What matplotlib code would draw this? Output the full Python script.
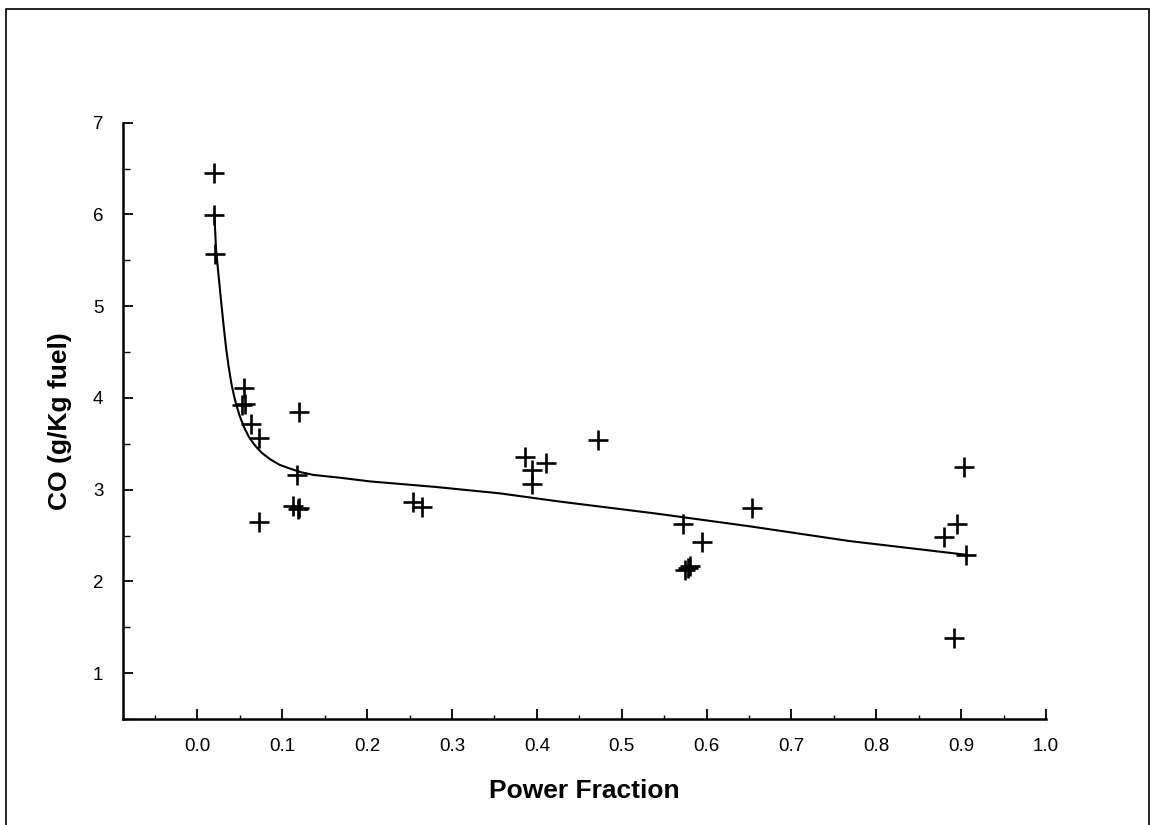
import numpy as np
import matplotlib.pyplot as plt
from matplotlib.ticker import MultipleLocator
from matplotlib.patches import Rectangle

plt.rcParams['font.family'] = ['Liberation Sans', 'DejaVu Sans']

# measured points (power fraction, CO g/kg fuel)
frac = [0.019, 0.020, 0.021, 0.055, 0.052, 0.056, 0.063, 0.073, 0.120, 0.117,
        0.113, 0.118, 0.120, 0.073, 0.254, 0.265, 0.386, 0.394, 0.394, 0.411,
        0.472, 0.572, 0.595, 0.574, 0.578, 0.580, 0.654, 0.903, 0.895, 0.880,
        0.906, 0.891]
co = [6.45, 5.99, 5.57, 4.11, 3.92, 3.93, 3.72, 3.56, 3.85, 3.16,
      2.82, 2.79, 2.80, 2.65, 2.87, 2.81, 3.36, 3.21, 3.06, 3.29,
      3.54, 2.63, 2.43, 2.12, 2.15, 2.17, 2.80, 3.25, 2.63, 2.48,
      2.29, 1.38]

# fitted curve
fit_x = [0.020, 0.022, 0.025, 0.028, 0.031, 0.034, 0.037, 0.040, 0.043,
         0.046, 0.050, 0.055, 0.061, 0.068, 0.076, 0.086, 0.097, 0.109,
         0.122, 0.137, 0.168, 0.203, 0.280, 0.356, 0.427, 0.540, 0.651,
         0.768, 0.906]
fit_y = [6.00, 5.62, 5.33, 5.05, 4.78, 4.53, 4.33, 4.16, 4.03,
         3.92, 3.80, 3.68, 3.57, 3.48, 3.40, 3.33, 3.27, 3.23,
         3.19, 3.16, 3.13, 3.09, 3.03, 2.96, 2.87, 2.74, 2.60,
         2.44, 2.29]

fig = plt.figure(figsize=(11.51, 8.25), dpi=100)
fig.patch.set_facecolor('white')
ax = fig.add_axes([0.1066, 0.1285, 0.8022, 0.7228])

ax.plot(fit_x, fit_y, color='black', lw=1.5)
ax.plot(frac, co, linestyle='none', marker='+', color='black',
        markersize=15, markeredgewidth=1.9)

ax.set_xlim(-0.088, 1.0)
ax.set_ylim(0.5, 7.0)
ax.xaxis.set_minor_locator(MultipleLocator(0.05))
ax.yaxis.set_minor_locator(MultipleLocator(0.5))
ax.set_xticks(np.arange(0, 1.01, 0.1))
ax.set_xticklabels(['%.1f' % v for v in np.arange(0, 1.01, 0.1)])
ax.set_yticks(range(1, 8))

for s in ['top', 'right']:
    ax.spines[s].set_visible(False)
for s in ['left', 'bottom']:
    ax.spines[s].set_linewidth(1.8)

ax.tick_params(axis='both', which='major', direction='in', length=7, width=1.3,
               labelsize=13.5, pad=14)
ax.tick_params(axis='x', which='minor', direction='in', length=3, width=1)
ax.tick_params(axis='y', which='minor', direction='in', length=5, width=1)

ax.set_xlabel('Power Fraction', fontsize=19, fontweight='bold', labelpad=17)
ax.set_ylabel('CO (g/Kg fuel)', fontsize=19, fontweight='bold', labelpad=15)

# frame around the whole picture
fig.patches.append(Rectangle((6 / 1151, -0.05), 1143 / 1151, 1 - 9 / 825 + 0.05,
                             transform=fig.transFigure, fill=False,
                             edgecolor='black', lw=1.2))

fig.savefig('out.png', dpi=100, facecolor='white')
